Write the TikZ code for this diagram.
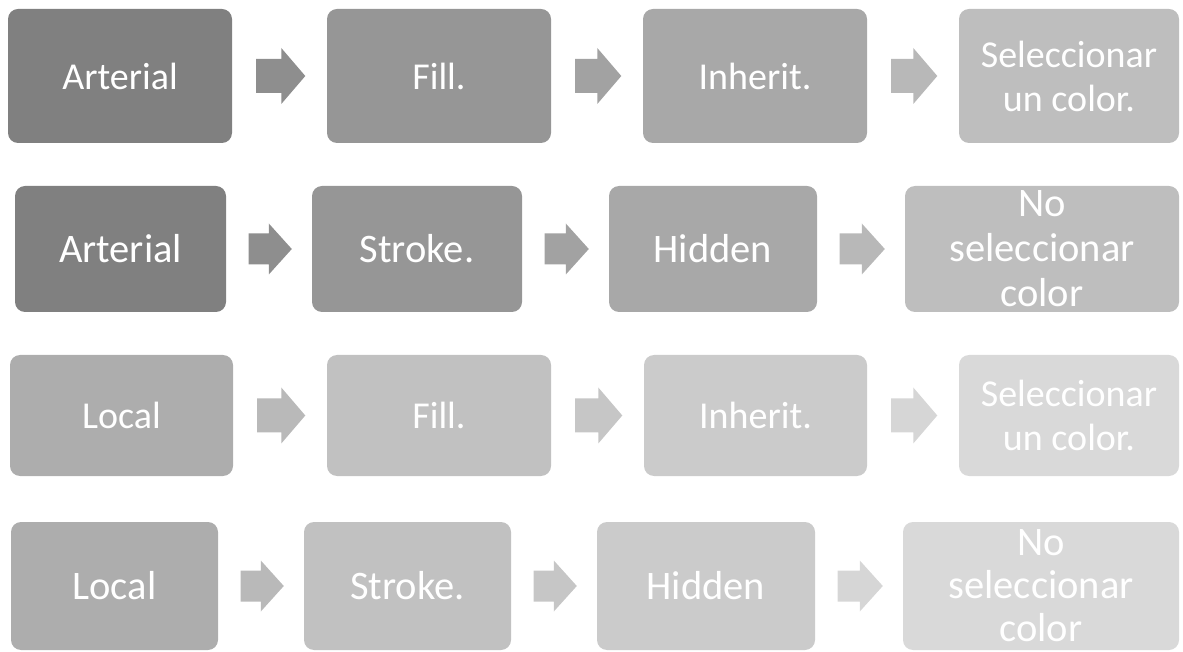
\documentclass[tikz,border=0pt]{standalone}
\usepackage{fontspec}
\setmainfont{Carlito}
\usepackage{tikz}
\usetikzlibrary{calc,positioning}

\definecolor{grisA}{gray}{0.502}
\definecolor{grisB}{gray}{0.588}
\definecolor{grisC}{gray}{0.659}
\definecolor{grisD}{gray}{0.745}
\definecolor{flechaA}{gray}{0.557}
\definecolor{flechaB}{gray}{0.635}
\definecolor{flechaC}{gray}{0.722}
\definecolor{grisE}{gray}{0.678}
\definecolor{grisF}{gray}{0.757}
\definecolor{grisG}{gray}{0.796}
\definecolor{grisH}{gray}{0.851}
\definecolor{flechaD}{gray}{0.725}
\definecolor{flechaE}{gray}{0.776}
\definecolor{flechaF}{gray}{0.839}

\tikzset{
  caja/.style={rounded corners=10pt, inner sep=0pt, align=center, text=white},
  cajaG/.style={caja, font=\fontsize{38}{44}\selectfont},
  cajaP/.style={caja, font=\fontsize{40.5}{45}\selectfont},
  % flecha de bloque entre dos cajas
  flechaG/.style={to path={
    ($(\tikztostart.east)+(24pt,17pt)$) -- ($(\tikztotarget.west)+(-45.5pt,17pt)$)
    -- ($(\tikztotarget.west)+(-45.5pt,28pt)$) -- ($(\tikztotarget.west)+(-21.5pt,0pt)$)
    -- ($(\tikztotarget.west)+(-45.5pt,-28pt)$) -- ($(\tikztotarget.west)+(-45.5pt,-17pt)$)
    -- ($(\tikztostart.east)+(24pt,-17pt)$) -- cycle}},
  flechaP/.style={to path={
    ($(\tikztostart.east)+(22.5pt,15.5pt)$) -- ($(\tikztotarget.west)+(-43pt,15.5pt)$)
    -- ($(\tikztotarget.west)+(-43pt,25.5pt)$) -- ($(\tikztotarget.west)+(-20pt,0pt)$)
    -- ($(\tikztotarget.west)+(-43pt,-25.5pt)$) -- ($(\tikztotarget.west)+(-43pt,-15.5pt)$)
    -- ($(\tikztostart.east)+(22.5pt,-15.5pt)$) -- cycle}}
}

\begin{document}
\begin{tikzpicture}
				 % \draw[color=gray,step=10pt, help lines,opacity=0.3] (0pt,0pt) grid (1183pt,651pt); %help grids
				 \useasboundingbox (0pt,0pt) rectangle (1183pt,651pt);
				 % fila 1
				 \node[cajaG, fill=grisA, minimum width=224pt, minimum height=134pt] (a1) at (120pt,575pt) {Arterial};
				 \node[cajaG, fill=grisB, minimum width=224pt, minimum height=134pt] (a2) at (439pt,575pt) {Fill.};
				 \node[cajaG, fill=grisC, minimum width=224pt, minimum height=134pt] (a3) at (755pt,575pt) {Inherit.};
				 \node[cajaG, fill=grisD, minimum width=220pt, minimum height=134pt] (a4) at (1069pt,575pt) {Seleccionar\\un color.};
				 \fill[flechaA] (a1) to[flechaG] (a2);
				 \fill[flechaB] (a2) to[flechaG] (a3);
				 \fill[flechaC] (a3) to[flechaG] (a4);
				 % fila 2
				 \node[cajaP, fill=grisA, minimum width=211pt, minimum height=126pt] (b1) at (120.5pt,402pt) {Arterial};
				 \node[cajaP, fill=grisB, minimum width=210pt, minimum height=126pt] (b2) at (417pt,402pt) {Stroke.};
				 \node[cajaP, fill=grisC, minimum width=208pt, minimum height=126pt] (b3) at (713pt,402pt) {Hidden};
				 \node[cajaP, fill=grisD, minimum width=274pt, minimum height=126pt] (b4) at (1042pt,402pt) {No\\seleccionar\\color};
				 \fill[flechaA] (b1) to[flechaP] (b2);
				 \fill[flechaB] (b2) to[flechaP] (b3);
				 \fill[flechaC] (b3) to[flechaP] (b4);
				 % fila 3
				 \node[cajaG, fill=grisE, minimum width=223pt, minimum height=121pt] (c1) at (121.5pt,235.5pt) {Local};
				 \node[cajaG, fill=grisF, minimum width=224pt, minimum height=121pt] (c2) at (439pt,235.5pt) {Fill.};
				 \node[cajaG, fill=grisG, minimum width=223pt, minimum height=121pt] (c3) at (755.5pt,235.5pt) {Inherit.};
				 \node[cajaG, fill=grisH, minimum width=220pt, minimum height=121pt] (c4) at (1069pt,235.5pt) {Seleccionar\\un color.};
				 \fill[flechaD] (c1) to[flechaG] (c2);
				 \fill[flechaE] (c2) to[flechaG] (c3);
				 \fill[flechaF] (c3) to[flechaG] (c4);
				 % fila 4
				 \node[cajaP, fill=grisE, minimum width=207pt, minimum height=128pt] (d1) at (114.5pt,65pt) {Local};
				 \node[cajaP, fill=grisF, minimum width=207pt, minimum height=128pt] (d2) at (407.5pt,65pt) {Stroke.};
				 \node[cajaP, fill=grisG, minimum width=218pt, minimum height=128pt] (d3) at (706pt,65pt) {Hidden};
				 \node[cajaP, fill=grisH, minimum width=276pt, minimum height=128pt, font=\fontsize{40.5}{43}\selectfont] (d4) at (1041pt,65pt) {No\\seleccionar\\color};
				 \fill[flechaD] (d1) to[flechaP] (d2);
				 \fill[flechaE] (d2) to[flechaP] (d3);
				 \fill[flechaF] (d3) to[flechaP] (d4);
\end{tikzpicture}
\end{document}
